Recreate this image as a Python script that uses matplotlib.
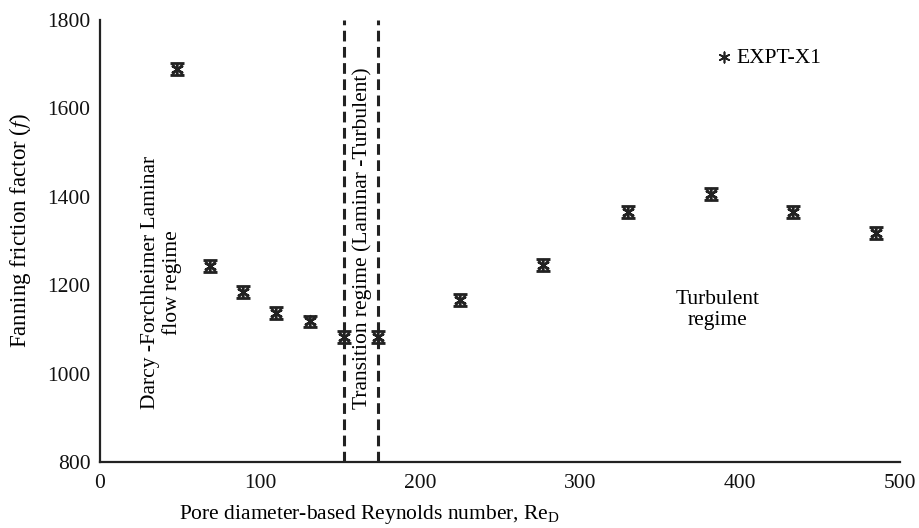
import numpy as np
import matplotlib
matplotlib.use('Agg')
import matplotlib.pyplot as plt

plt.rcParams['font.family'] = 'Liberation Serif'
plt.rcParams['mathtext.fontset'] = 'stix'

# Pore Reynolds number vs Fanning friction factor
re_d = [48, 69, 89.5, 110, 131, 152.5, 173.5, 225, 277, 330, 382, 433, 485]
fanning_f = [1689, 1243, 1185, 1137, 1118, 1083, 1083, 1167, 1246, 1366, 1406, 1366, 1318]
f_err = [13] * len(re_d)

# regime boundaries
transition_bounds = [152.5, 173.5]

x_ticks = [0, 100, 200, 300, 400, 500]
y_ticks = [800, 1000, 1200, 1400, 1600, 1800]

star = (6, 2, 0)
ink = '#222222'
fs = 15.5

fig = plt.figure(figsize=(9.19, 5.28), dpi=100)
ax = fig.add_axes([0.1088, 0.125, 0.8705, 0.837])

ax.errorbar(re_d, fanning_f, yerr=f_err, fmt='none', ecolor=ink,
            elinewidth=1.5, capsize=5, capthick=2)
ax.scatter(re_d, fanning_f, marker='x', s=70, color=ink, linewidths=1.6,
           zorder=3)
ax.scatter(re_d, fanning_f, marker=star, s=70, color=ink, linewidths=1.2,
           zorder=3, label='EXPT-X1')

for xb in transition_bounds:
    ax.axvline(xb, color=ink, linestyle=(0, (3.5, 1.8)), linewidth=2.2,
               zorder=1)

ax.text(38.5, 1207, 'Darcy -Forchheimer Laminar\nflow regime', rotation=90,
        ha='center', va='center', fontsize=fs, linespacing=1.15)
ax.text(164, 1307, 'Transition regime (Laminar -Turbulent)', rotation=90,
        ha='center', va='center', fontsize=fs)
ax.text(386, 1144, 'Turbulent\nregime', ha='center', va='center',
        fontsize=fs, linespacing=1.2)

ax.set_xlim(0, 500)
ax.set_ylim(800, 1800)
ax.set_xticks(x_ticks)
ax.set_yticks(y_ticks)
ax.tick_params(length=0, labelsize=fs, colors='#111111')
ax.tick_params(axis='y', pad=7)
ax.tick_params(axis='x', pad=9)

for side in ['top', 'right']:
    ax.spines[side].set_visible(False)
for side in ['left', 'bottom']:
    ax.spines[side].set_linewidth(1.6)
    ax.spines[side].set_color(ink)

ax.set_xlabel(r'Pore diameter-based Reynolds number, Re$_\mathregular{D}$',
              fontsize=fs)
ax.xaxis.set_label_coords(0.3375, -0.092)
ax.set_ylabel(r'Fanning friction factor ($f$)', fontsize=16.5)
ax.yaxis.set_label_coords(-0.084, 0.525)

leg = ax.legend(handles=[ax.collections[-1]], loc='upper left',
                bbox_to_anchor=(0.75, 0.962), frameon=False, fontsize=fs,
                handletextpad=0.0, handlelength=1.2, markerscale=0.9,
                borderpad=0)

fig.savefig('out.png', dpi=100)
